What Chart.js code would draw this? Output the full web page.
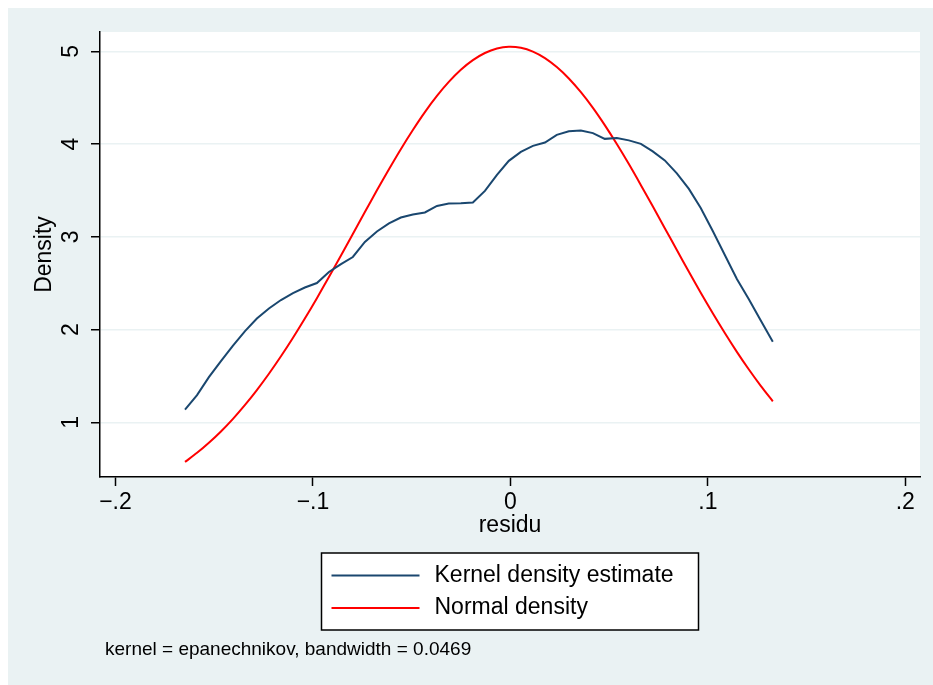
<!DOCTYPE html>
<html><head><meta charset="utf-8">
<script src="https://cdn.jsdelivr.net/npm/chart.js@4/dist/chart.umd.min.js"></script>
<style>html,body{margin:0;padding:0;background:#fff;}#wrap{width:933px;height:685px;position:relative}</style>
</head><body><div id="wrap"><canvas id="c" width="933" height="685"></canvas></div>
<script>
const residu = [-0.1648,-0.1587,-0.1527,-0.1466,-0.1405,-0.1344,-0.1284,-0.1223,-0.1162,-0.1101,
  -0.1041,-0.0980,-0.0919,-0.0858,-0.0798,-0.0737,-0.0676,-0.0615,-0.0555,-0.0494,
  -0.0433,-0.0372,-0.0312,-0.0251,-0.0190,-0.0129,-0.0068,-0.0008,0.0053,0.0114,
  0.0175,0.0235,0.0296,0.0357,0.0418,0.0478,0.0539,0.0600,0.0661,0.0721,
  0.0782,0.0843,0.0904,0.0964,0.1025,0.1086,0.1147,0.1207,0.1268,0.1329];
const kernelDensity = [1.136,1.293,1.487,1.660,1.827,1.984,2.119,2.227,2.319,2.394,
  2.454,2.502,2.621,2.707,2.783,2.945,3.058,3.145,3.209,3.242,
  3.263,3.334,3.361,3.363,3.371,3.496,3.668,3.820,3.917,3.982,
  4.017,4.100,4.138,4.147,4.119,4.057,4.065,4.041,4.003,3.922,
  3.825,3.685,3.517,3.312,3.064,2.805,2.545,2.329,2.097,1.868];
const normalDensity = [0.573,0.671,0.780,0.902,1.038,1.188,1.348,1.524,1.712,1.912,
  2.119,2.339,2.567,2.800,3.032,3.268,3.502,3.730,3.946,4.153,
  4.346,4.520,4.671,4.802,4.906,4.983,5.031,5.050,5.039,4.998,
  4.928,4.831,4.708,4.560,4.391,4.205,4.001,3.785,3.558,3.330,
  3.094,2.858,2.624,2.398,2.176,1.963,1.760,1.572,1.393,1.227];
const xTicks = [-0.2,-0.1,0,0.1,0.2];
const xTickLabels = ['\u2212.2','\u2212.1','0','.1','.2'];
const yTicks = [1,2,3,4,5];
const yTickLabels = ['1','2','3','4','5'];
const seriesNames = ['Kernel density estimate','Normal density'];
const xTitle = 'residu';
const yTitle = 'Density';
const noteText = 'kernel = epanechnikov, bandwidth = 0.0469';

const FONT = "'Liberation Sans', Arial, Helvetica, sans-serif";
const BLUE = '#1a476f', RED = '#ff0000', BG = '#eaf2f3';

const bgPlugin = {
  id: 'bg',
  beforeDraw(chart) {
    const ctx = chart.ctx, a = chart.chartArea;
    ctx.save();
    ctx.fillStyle = '#ffffff';
    ctx.fillRect(0, 0, chart.width, chart.height);
    ctx.fillStyle = BG;
    ctx.fillRect(8, 8, chart.width - 8, chart.height - 8);
    ctx.fillStyle = '#ffffff';
    ctx.fillRect(a.left, a.top, a.right - a.left, a.bottom - a.top);
    ctx.restore();
  }
};

const legendPlugin = {
  id: 'boxLegend',
  afterDraw(chart) {
    const ctx = chart.ctx;
    const cx = (chart.chartArea.left + chart.chartArea.right) / 2;
    const w = 377, h = 77, top = 553;
    const left = cx - w / 2;
    ctx.save();
    ctx.fillStyle = '#ffffff';
    ctx.fillRect(left, top, w, h);
    ctx.strokeStyle = '#000000';
    ctx.lineWidth = 1.5;
    ctx.strokeRect(left, top, w, h);
    const rows = [575.5, 608];
    chart.data.datasets.forEach((ds, i) => {
      ctx.strokeStyle = ds.borderColor;
      ctx.lineWidth = 2;
      ctx.beginPath();
      ctx.moveTo(left + 10, rows[i]);
      ctx.lineTo(left + 98, rows[i]);
      ctx.stroke();
      ctx.fillStyle = '#000000';
      ctx.font = '23px ' + FONT;
      ctx.textBaseline = 'middle';
      ctx.textAlign = 'left';
      ctx.fillText(ds.label, left + 113, rows[i]);
    });
    ctx.font = '19px ' + FONT;
    ctx.fillStyle = '#000000';
    ctx.textBaseline = 'middle';
    ctx.fillText(noteText, 105, 650);
    ctx.restore();
  }
};

new Chart(document.getElementById('c'), {
  type: 'line',
  data: {
    datasets: [
      { label: seriesNames[0], data: residu.map((x, i) => ({x: x, y: kernelDensity[i]})),
        borderColor: BLUE, borderWidth: 2, pointRadius: 0, tension: 0, fill: false },
      { label: seriesNames[1], data: residu.map((x, i) => ({x: x, y: normalDensity[i]})),
        borderColor: RED, borderWidth: 2, pointRadius: 0, tension: 0.3, fill: false }
    ]
  },
  options: {
    responsive: false,
    animation: false,
    devicePixelRatio: 1,
    layout: { padding: { left: 0, top: 32, right: 13, bottom: 138 } },
    plugins: { legend: { display: false }, tooltip: { enabled: false } },
    scales: {
      x: {
        type: 'linear', min: -0.20785, max: 0.20745,
        afterBuildTicks: s => { s.ticks = xTicks.map(v => ({value: v})); },
        afterFit: s => { s.height = 70; },
        ticks: { callback: (v, i) => xTickLabels[i], font: { family: FONT, size: 23 }, color: '#000',
          padding: 3, maxRotation: 0, autoSkip: false },
        grid: { drawOnChartArea: false, tickLength: 9, tickColor: '#000', tickWidth: 1.5 },
        border: { color: '#000', width: 1.5 },
        title: { display: true, text: xTitle, color: '#000', font: { family: FONT, size: 23 },
          padding: { top: 0, bottom: 8 } }
      },
      y: {
        type: 'linear', min: 0.4104, max: 5.2095, position: 'left',
        afterBuildTicks: s => { s.ticks = yTicks.map(v => ({value: v})); },
        afterFit: s => { s.width = 100; },
        ticks: { callback: (v, i) => yTickLabels[i], font: { family: FONT, size: 23 }, color: '#000',
          padding: 13, minRotation: 90, maxRotation: 90, crossAlign: 'center', autoSkip: false },
        grid: { color: BG, lineWidth: 1.5, tickLength: 9, tickColor: '#000', tickWidth: 1.5 },
        border: { color: '#000', width: 1.5 },
        title: { display: true, text: yTitle, color: '#000', font: { family: FONT, size: 23 },
          padding: { top: 31, bottom: 0 } }
      }
    }
  },
  plugins: [bgPlugin, legendPlugin]
});
</script>
</body></html>
